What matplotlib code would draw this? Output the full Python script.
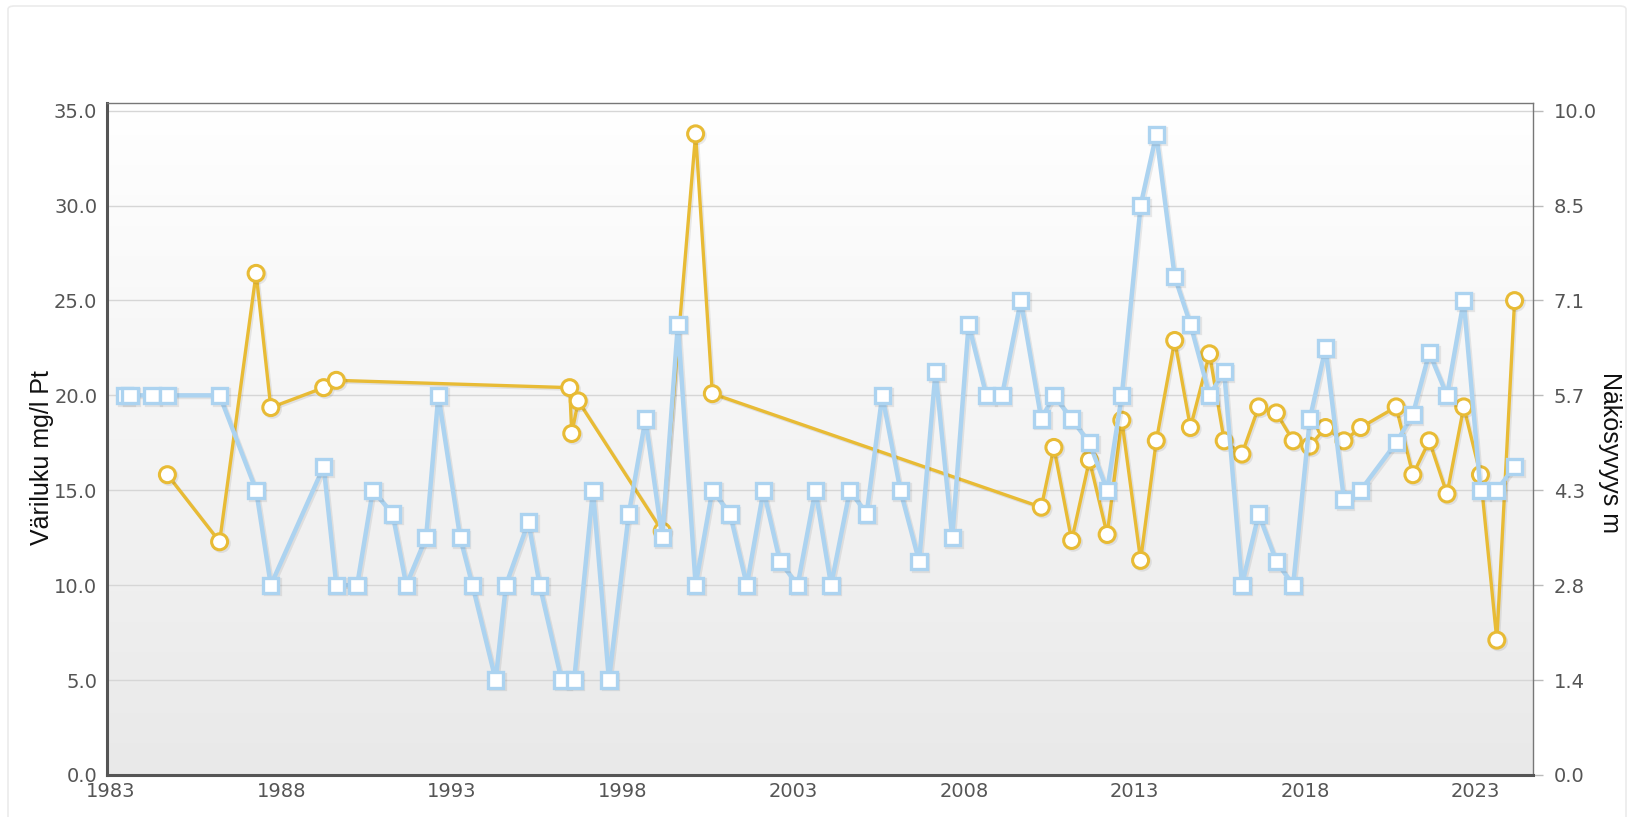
import numpy as np
import matplotlib
matplotlib.use("Agg")
import matplotlib.pyplot as plt
import matplotlib.patheffects as pe
from matplotlib.patches import FancyBboxPatch

# Väriluku (mg/l Pt), left axis
colour_years = [
    1983.41, 1983.56, 1984.21, 1984.66, 1986.19, 1987.26, 1987.69, 1989.24, 1989.61, 1990.22,
    1990.68, 1991.26, 1991.66, 1992.24, 1992.60, 1993.24, 1993.60, 1994.28, 1994.58, 1995.24,
    1995.57, 1996.21, 1996.58, 1997.13, 1997.60, 1998.18, 1998.67, 1999.16, 1999.62, 2000.14,
    2000.63, 2001.15, 2001.64, 2002.13, 2002.61, 2003.13, 2003.65, 2004.11, 2004.66, 2005.15,
    2005.61, 2006.14, 2006.69, 2007.17, 2007.66, 2008.14, 2008.66, 2009.12, 2009.67, 2010.27,
    2010.64, 2011.16, 2011.68, 2012.20, 2012.63, 2013.18, 2013.64, 2014.18, 2014.64, 2015.20,
    2015.63, 2016.15, 2016.64, 2017.16, 2017.65, 2018.14, 2018.60, 2019.14, 2019.63, 2020.67,
    2021.16, 2021.64, 2022.16, 2022.65, 2023.14, 2023.62, 2024.14,
]
colour_values = [
    20, 20, 20, 20, 20, 15, 10, 16.25, 10, 10,
    15, 13.75, 10, 12.5, 20, 12.5, 10, 5, 10, 13.33,
    10, 5, 5, 15, 5, 13.75, 18.75, 12.5, 23.75, 10,
    15, 13.75, 10, 15, 11.25, 10, 15, 10, 15, 13.75,
    20, 15, 11.25, 21.25, 12.5, 23.75, 20, 20, 25, 18.75,
    20, 18.75, 17.5, 15, 20, 30, 33.75, 26.25, 23.75, 20,
    21.25, 10, 13.75, 11.25, 10, 18.75, 22.5, 14.5, 15, 17.5,
    19, 22.25, 20, 25, 15, 15, 16.25,
]

# Näkösyvyys (m), right axis
secchi_years = [
    1984.66, 1986.19, 1987.26, 1987.69, 1989.24, 1989.61, 1996.45, 1996.51, 1996.70, 1999.16,
    2000.14, 2000.63, 2010.27, 2010.64, 2011.16, 2011.68, 2012.20, 2012.63, 2013.18, 2013.64,
    2014.18, 2014.64, 2015.20, 2015.63, 2016.15, 2016.64, 2017.16, 2017.65, 2018.14, 2018.60,
    2019.14, 2019.63, 2020.67, 2021.16, 2021.64, 2022.16, 2022.65, 2023.14, 2023.62, 2024.14,
]
secchi_values = [
    4.52, 3.51, 7.55, 5.53, 5.83, 5.94, 5.83, 5.14, 5.63, 3.67,
    9.65, 5.74, 4.03, 4.93, 3.53, 4.74, 3.62, 5.34, 3.23, 5.03,
    6.54, 5.23, 6.34, 5.03, 4.83, 5.54, 5.45, 5.03, 4.95, 5.23,
    5.03, 5.23, 5.54, 4.52, 5.03, 4.23, 5.54, 4.52, 2.03, 7.14,
]

year_ticks = [1983, 1988, 1993, 1998, 2003, 2008, 2013, 2018, 2023]
left_ticks = [0, 5, 10, 15, 20, 25, 30, 35]
right_tick_labels = ["0.0", "1.4", "2.8", "4.3", "5.7", "7.1", "8.5", "10.0"]

W, H = 1634, 817
fig = plt.figure(figsize=(W / 100, H / 100), dpi=100)
fig.patch.set_facecolor("white")

# card border
fig.patches.append(FancyBboxPatch(
    (8 / W, -0.05), 1618 / W, 1 - 6 / H + 0.05,
    boxstyle="round,pad=0,rounding_size=0.004",
    transform=fig.transFigure, facecolor="none",
    edgecolor="#ebebeb", linewidth=1.2, zorder=0,
))

left, right, top, bottom = 107, 1533, 103, 775
ax = fig.add_axes([left / W, 1 - bottom / H, (right - left) / W, (bottom - top) / H])
ax2 = ax.twinx()
ax.set_zorder(ax2.get_zorder() + 1)
ax.patch.set_visible(False)

# gradient background (white on top, light grey at the bottom) + grid on the lower axes
grad = np.linspace(0, 1, 256).reshape(-1, 1)
ax2.imshow(grad, cmap=matplotlib.colors.LinearSegmentedColormap.from_list(
    "bg", ["#ffffff", "#e9e9e9"]), extent=[0, 1, 0, 1], origin="upper", aspect="auto",
    transform=ax2.transAxes, zorder=0)

ymax_left = 35.4
ax.set_xlim(1982.89, 2024.68)
ax.set_ylim(0, ymax_left)
ax2.set_ylim(0, ymax_left / 3.5)

ax2.set_xticks(year_ticks)
ax2.set_yticks(np.arange(len(right_tick_labels)) * 10 / 7)
ax2.set_yticklabels(right_tick_labels)
ax2.grid(True, color="#d6d6d6", linewidth=1.0, zorder=1)
ax2.set_axisbelow(True)

shadow = [pe.SimpleLineShadow(offset=(1.2, -1.2), alpha=0.08, shadow_color="black"), pe.Normal()]

ax2.plot(secchi_years, secchi_values, color="#e8bb35", linewidth=2.4,
         marker="o", markersize=11.5, markerfacecolor="white",
         markeredgecolor="#e8bb35", markeredgewidth=2.2, zorder=3,
         path_effects=shadow)
ax.plot(colour_years, colour_values, color="#acd3f0", linewidth=3.2,
        marker="s", markersize=11, markerfacecolor="white",
        markeredgecolor="#acd3f0", markeredgewidth=2.4, zorder=3,
        path_effects=shadow)

ax.set_xticks(year_ticks)
ax.set_yticks(left_ticks)
ax.set_yticklabels([f"{v:.1f}" for v in left_ticks])

tick_color = "#555555"
ax.tick_params(axis="y", length=0, pad=7, labelsize=14, labelcolor=tick_color)
ax.tick_params(axis="x", length=0, pad=5, labelsize=14, labelcolor=tick_color)
ax2.tick_params(axis="y", length=7, width=1, color="#bbbbbb", pad=8,
                labelsize=14, labelcolor=tick_color)
ax2.tick_params(axis="x", length=0, labelbottom=False)

for s in ax2.spines.values():
    s.set_visible(False)
for name in ("left", "bottom"):
    ax.spines[name].set_color("#555555")
    ax.spines[name].set_linewidth(2.2)
for name in ("top", "right"):
    ax.spines[name].set_color("#777777")
    ax.spines[name].set_linewidth(1.0)

label_font = ["Liberation Sans", "DejaVu Sans"]
fig.text(42 / W, 1 - 458 / H, "Väriluku mg/l Pt", rotation=90, ha="center", va="center",
         fontsize=18, color="#111111", family=label_font)
fig.text(1610 / W, 1 - 452 / H, "Näkösyvyys m", rotation=270, ha="center", va="center",
         fontsize=18, color="#111111", family=label_font)

fig.savefig("out.png", dpi=100)
